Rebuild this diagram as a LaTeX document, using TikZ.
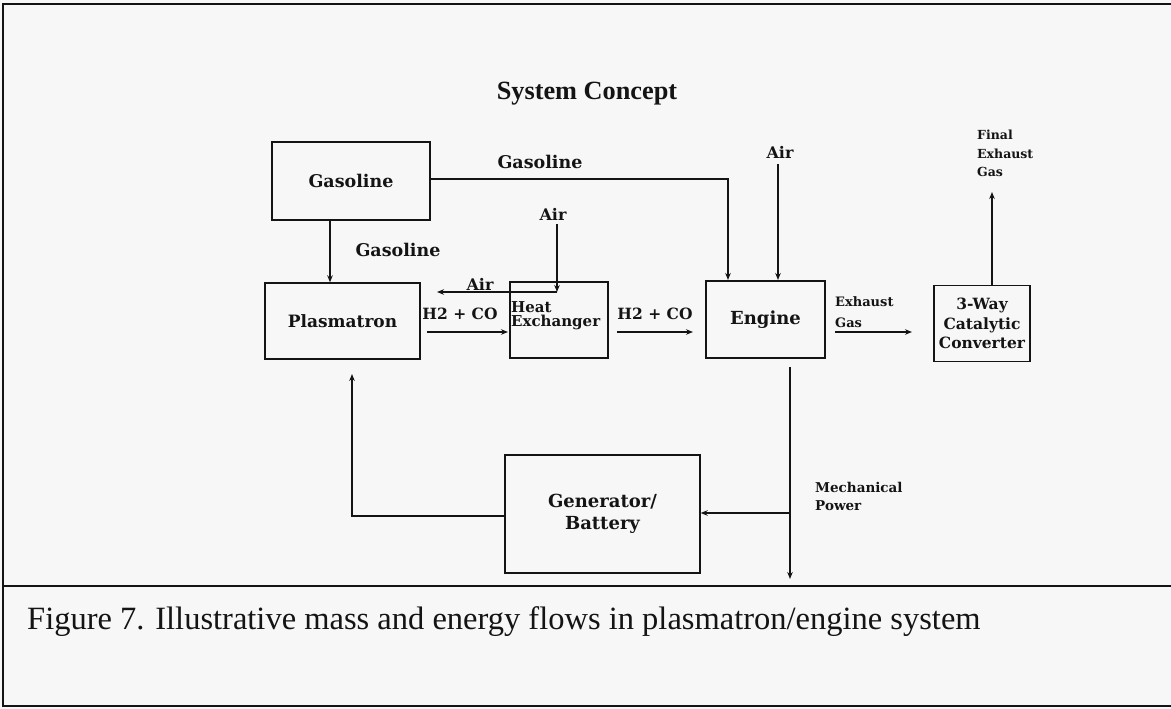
\documentclass[tikz,border=0pt]{standalone}
\usepackage{fontspec}
\setmainfont{Liberation Serif}
\newfontfamily\lab{DejaVu Serif}
\usetikzlibrary{arrows.meta}
\definecolor{bg}{RGB}{247,247,247}
\definecolor{ink}{RGB}{20,20,20}
\newcommand{\fs}[2]{\lab\bfseries\fontsize{#1}{#2}\selectfont}
\begin{document}
\begin{tikzpicture}[x=1pt,y=-1pt,
  box/.style={draw=ink,line width=1.4pt,inner sep=0pt,align=center,text=ink,
    font=\fs{17}{20}},
  lbl/.style={inner sep=0pt,align=left,text=ink,font=\fs{17}{20}},
  arr/.style={draw=ink,line width=1.2pt,-{Stealth[length=7pt,width=5.5pt]}}]
\fill[bg] (0,0) rectangle (1171,709);
\useasboundingbox (0,0) rectangle (1171,709);
% frame
\draw[ink,line width=1.2pt] (1171,4) -- (3,4) -- (3,706) -- (1171,706);
\draw[ink,line width=1.8pt] (3,586) -- (1171,586);
% title
\node[font=\bfseries\fontsize{26.3}{30}\selectfont,text=ink] (title) at (587,94) {System Concept};
% boxes
\node[box,minimum width=158pt,minimum height=78pt,font=\fs{17.5}{20}] (gas) at (351,181) {Gasoline};
\node[box,minimum width=155pt,minimum height=76pt] (plas) at (342.5,321) {Plasmatron};
\node[box,minimum width=98pt,minimum height=76pt] (hx) at (559,320) {};
\node[lbl,anchor=west,font=\fs{15}{14.5}] (hxt) at (511,315.5) {Heat\\Exchanger};
\node[box,minimum width=119pt,minimum height=77pt,font=\fs{18}{20}] (eng) at (765.5,319.5) {Engine};
\node[box,minimum width=96pt,minimum height=76pt,font=\fs{15.5}{19.5}] (cat) at (982,323.5) {3-Way\\Catalytic\\Converter};
\node[box,minimum width=195pt,minimum height=118pt,font=\fs{18}{22}] (gen) at (602.5,514) {Generator/\\Battery};
% labels
\node[lbl,font=\fs{17.5}{20}] (lg1) at (540,162) {Gasoline};
\node[lbl,font=\fs{17.5}{20}] (lg2) at (398,250) {Gasoline};
\node[lbl,font=\fs{16}{20}] (air1) at (553,214) {Air};
\node[lbl,font=\fs{16}{20}] (air2) at (480,284) {Air};
\node[lbl,font=\fs{16}{20}] (air3) at (780,152) {Air};
\node[lbl,font=\fs{15.5}{20}] (h2a) at (460,314) {H2 + CO};
\node[lbl,font=\fs{15.5}{20}] (h2b) at (655,314) {H2 + CO};
\node[lbl,anchor=west,font=\fs{13}{21}] (exh) at (835,312.5) {Exhaust\\Gas};
\node[lbl,anchor=north west,font=\fs{12.5}{18.5}] (fin) at (977,130) {Final\\Exhaust\\Gas};
\node[lbl,anchor=north west,font=\fs{13.5}{18}] (mech) at (815,482) {Mechanical\\Power};
% caption
\node[anchor=west,font=\fontsize{32.5}{36}\selectfont,text=ink,inner sep=0pt] (cap) at (27,622) {Figure 7. Illustrative mass and energy flows in plasmatron/engine system};
% coordinates
\coordinate (gtop) at (728,280);
\coordinate (a1s) at (557,224);
\coordinate (hxa) at (557,292);
\coordinate (aleft) at (437,292);
\coordinate (h1s) at (427,332);
\coordinate (h1e) at (508,332);
\coordinate (h2s) at (617,332);
\coordinate (h2e) at (693,332);
\coordinate (a3s) at (778,164);
\coordinate (a3e) at (778,280);
\coordinate (exs) at (835,332);
\coordinate (exe) at (912,332);
\coordinate (cats) at (992,285);
\coordinate (cate) at (992,192);
\coordinate (ms) at (790,367);
\coordinate (me) at (790,579);
\coordinate (mb) at (790,513);
\coordinate (pb) at (352,374);
% connectors
\draw[arr] (gas.east |- 0,179) -| (gtop);
\draw[arr] (gas.south -| 330,0) -- (plas.north -| 330,0);
\draw[arr] (a1s) -- (hxa);
\draw[arr] (hxa) -- (aleft);
\draw[arr] (h1s) -- (h1e);
\draw[arr] (h2s) -- (h2e);
\draw[arr] (a3s) -- (a3e);
\draw[arr] (exs) -- (exe);
\draw[arr] (cats) -- (cate);
\draw[arr] (ms) -- (me);
\draw[arr] (mb) -- (gen.east |- mb);
\draw[arr] (gen.west |- 0,516) -| (pb);
\end{tikzpicture}
\end{document}
